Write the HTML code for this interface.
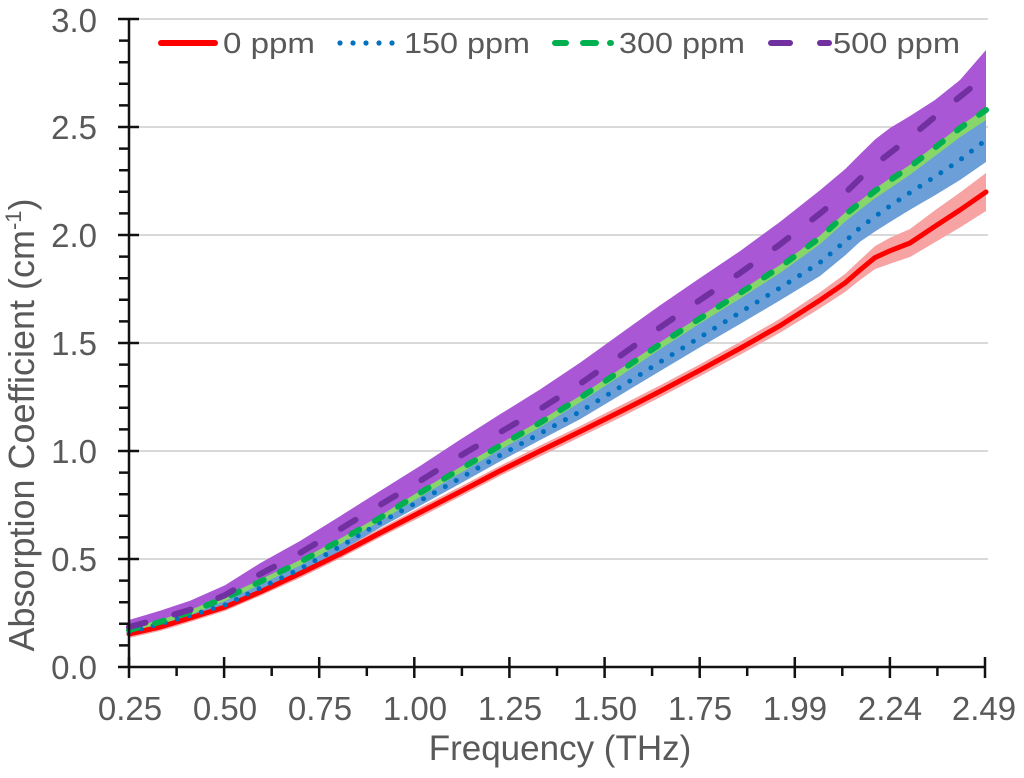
<!DOCTYPE html>
<html>
<head>
<meta charset="utf-8">
<style>
  html, body { margin: 0; padding: 0; background: #ffffff; }
  body { width: 1024px; height: 778px; overflow: hidden; }
  svg { display: block; }
  text { font-family: "Liberation Sans", Arial, sans-serif; fill: #595959; }
</style>
</head>
<body>
<svg width="1024" height="778" viewBox="0 0 1024 778" xmlns="http://www.w3.org/2000/svg">
  <rect x="0" y="0" width="1024" height="778" fill="#ffffff"/>

  <!-- gridlines -->
  <g stroke="#d9d9d9" stroke-width="2">
    <line x1="130" y1="19" x2="988" y2="19"/>
    <line x1="130" y1="127" x2="988" y2="127"/>
    <line x1="130" y1="235" x2="988" y2="235"/>
    <line x1="130" y1="343" x2="988" y2="343"/>
    <line x1="130" y1="451" x2="988" y2="451"/>
    <line x1="130" y1="559" x2="988" y2="559"/>
  </g>

  <!-- bands -->
  <polygon fill="#f7a3a3" points="129,630 160,623 190,614 225,603 260,588 300,569 340,549.5 380,528.5 420,507.4 460,486.8 500,465.9 540,445.5 580,426.1 620,405.8 660,385.4 700,364.2 740,341.9 780,318.7 820,292.2 845,274 860,260 875,246.1 890,237.8 910,229 935,210.3 960,192.5 986,173 986,211 960,227.5 935,242.3 910,257 890,263.8 875,269.1 860,280 845,292 820,308.2 780,332.7 740,354.9 700,376.2 660,397.4 620,417.8 580,437.1 540,456.5 500,475.9 460,496.8 420,517.4 380,537.5 340,558.5 300,578 260,596 225,611 190,622 160,631 129,638"/>
  <polygon fill="#6c9fd8" points="129,630 160,622 190,612 225,598 260,581.8 300,562 340,540.6 380,517.9 420,492.9 460,469.2 500,445.7 540,422.7 580,397.9 620,371.1 660,344.2 700,318.4 740,293.1 780,267 820,237.6 845,214.8 860,202.8 875,190.9 890,180.2 910,166.7 935,147.5 960,128.1 986,110 986,162 960,180 935,195.2 910,209.7 890,222 875,231.5 860,241.8 845,255.5 820,276 780,300.4 740,324 700,347.3 660,371.1 620,395.2 580,419.2 540,440.1 500,461.4 460,483.8 420,505.8 380,527.7 340,551.2 300,573 260,591.7 225,608.5 190,618.5 160,626.9 129,635"/>
  <polygon fill="#86d66a" points="129,626 160,618 190,608 225,594 260,577.8 300,558 340,536.6 380,513.9 420,488.9 460,465.2 500,441.7 540,418.7 580,393.9 620,367.1 660,340.2 700,314.4 740,289.1 780,263 820,233.6 845,210.8 860,198.8 875,186.9 890,176.2 910,162.7 935,143.5 960,124.1 986,106 986,120 960,137.1 935,156 910,174.7 890,188.2 875,198.4 860,209.8 845,221.8 820,244.1 780,273 740,298.6 700,323.4 660,349.2 620,376.1 580,402.4 540,427.2 500,449.7 460,473.2 420,496.9 380,521.4 340,544.1 300,565.5 260,584.8 225,601 190,615 160,625 129,633"/>
  <polygon fill="#a957d5" points="129,620 160,610.8 190,600.8 225,585.2 260,563.2 300,541 340,516.2 380,491 420,466 460,439.7 500,414.3 540,389.5 580,362.7 620,334 660,305.4 700,278 740,251.1 780,221.9 820,190.2 845,169.3 860,154.2 875,139.5 890,128 910,116 935,100 960,80 986,50 986,108 960,126.1 935,145.5 910,164.7 890,178.2 875,188.9 860,200.8 845,212.8 820,235.6 780,265 740,291.1 700,316.4 660,342.2 620,369.1 580,395.9 540,420.7 500,443.7 460,467.2 420,490.9 380,515.9 340,538.6 300,560 260,579.8 225,596 190,610 160,620 129,628"/>

  <!-- lines -->
  <polyline fill="none" stroke="#ff0000" stroke-width="5" stroke-linejoin="round" stroke-linecap="round" points="129,634 160,627 190,618 225,607 260,592 300,573.5 340,554 380,533 420,512.4 460,491.8 500,470.9 540,451 580,431.6 620,411.8 660,391.4 700,370.2 740,348.4 780,325.7 820,300.2 845,283 860,270 875,257.6 890,250.8 910,243 935,226.3 960,210 986,192"/>
  <polyline fill="none" stroke="#0070c0" stroke-width="5" stroke-linejoin="round" stroke-linecap="round" stroke-dasharray="0 12.5" points="129,632 160,623.9 190,615.5 225,605 260,588.2 300,569 340,546.7 380,522.7 420,500.8 460,478.3 500,455.4 540,433.6 580,411.7 620,387.2 660,362.1 700,337.3 740,312.5 780,287.9 820,262.5 845,241.5 860,227.8 875,216.5 890,206 910,192.7 935,176.7 960,160 986,140"/>
  <polyline fill="none" stroke="#00b050" stroke-width="6" stroke-linejoin="round" stroke-linecap="round" stroke-dasharray="9 18" points="129,630 160,622 190,612 225,598 260,581.8 300,562 340,540.6 380,517.9 420,492.9 460,469.2 500,445.7 540,422.7 580,397.9 620,371.1 660,344.2 700,318.4 740,293.1 780,267 820,237.6 845,214.8 860,202.8 875,190.9 890,180.2 910,166.7 935,147.5 960,128.1 986,110"/>
  <polyline fill="none" stroke="#7030a0" stroke-width="6" stroke-linejoin="round" stroke-linecap="round" stroke-dasharray="17 30" points="129,627 160,618.8 190,609.8 225,595.2 260,574.2 300,553 340,529.2 380,505 420,481 460,456 500,432.3 540,409.1 580,383.9 620,356 660,327.4 700,300 740,273.1 780,244.4 820,213.5 845,193.2 860,178.6 875,164.5 890,153 910,137.5 935,116.7 960,96.6 986,76"/>

  <!-- axes -->
  <g stroke="#111111" stroke-width="2.5" fill="none">
    <line x1="129" y1="18" x2="129" y2="668"/>
    <line x1="118" y1="667" x2="986" y2="667"/>
    <!-- y major ticks -->
    <path d="M118 19H139M118 127H139M118 235H139M118 343H139M118 451H139M118 559H139"/>
    <!-- y minor ticks -->
    <path d="M119 645.4H129M119 623.8H129M119 602.2H129M119 580.6H129M119 537.4H129M119 515.8H129M119 494.2H129M119 472.6H129M119 429.4H129M119 407.8H129M119 386.2H129M119 364.6H129M119 321.4H129M119 299.8H129M119 278.2H129M119 256.6H129M119 213.4H129M119 191.8H129M119 170.2H129M119 148.6H129M119 105.4H129M119 83.8H129M119 62.2H129M119 40.6H129"/>
    <!-- x major ticks -->
    <path d="M129 657V678M224.1 657V678M319.2 657V678M414.3 657V678M509.4 657V678M604.6 657V678M699.7 657V678M794.8 657V678M889.9 657V678M985 657V678"/>
    <!-- x minor ticks -->
    <path d="M176.6 667V676M271.7 667V676M366.8 667V676M461.9 667V676M557 667V676M652.1 667V676M747.2 667V676M842.3 667V676M937.4 667V676"/>
  </g>

  <!-- y tick labels -->
  <g font-size="33" text-anchor="end">
    <text x="97" y="32">3.0</text>
    <text x="97" y="139">2.5</text>
    <text x="97" y="247">2.0</text>
    <text x="97" y="355">1.5</text>
    <text x="97" y="463">1.0</text>
    <text x="97" y="571">0.5</text>
    <text x="97" y="679">0.0</text>
  </g>

  <!-- x tick labels -->
  <g font-size="33" text-anchor="middle">
    <text x="130" y="720">0.25</text>
    <text x="225" y="720">0.50</text>
    <text x="320" y="720">0.75</text>
    <text x="415" y="720">1.00</text>
    <text x="510" y="720">1.25</text>
    <text x="605" y="720">1.50</text>
    <text x="700" y="720">1.75</text>
    <text x="795" y="720">1.99</text>
    <text x="890" y="720">2.24</text>
    <text x="984" y="720">2.49</text>
  </g>

  <!-- axis titles -->
  <text x="560" y="760" font-size="35" text-anchor="middle">Frequency (THz)</text>
  <text transform="translate(34,425) rotate(-90)" font-size="36" text-anchor="middle">Absorption Coefficient (cm<tspan font-size="22" dy="-13">-1</tspan><tspan dy="13">)</tspan></text>

  <!-- legend -->
  <line x1="161" y1="43" x2="215" y2="43" stroke="#ff0000" stroke-width="6" stroke-linecap="round"/>
  <text x="223" y="53" font-size="29" textLength="92" lengthAdjust="spacingAndGlyphs">0 ppm</text>

  <g fill="#0070c0">
    <circle cx="340" cy="43" r="2.6"/>
    <circle cx="353" cy="43" r="2.6"/>
    <circle cx="366" cy="43" r="2.6"/>
    <circle cx="379" cy="43" r="2.6"/>
    <circle cx="392" cy="43" r="2.6"/>
  </g>
  <text x="404" y="53" font-size="29" textLength="126" lengthAdjust="spacingAndGlyphs">150 ppm</text>

  <g fill="#00b050">
    <rect x="552" y="40" width="17" height="6" rx="3"/>
    <rect x="580" y="40" width="19" height="6" rx="3"/>
    <rect x="607" y="40" width="7" height="6" rx="3"/>
  </g>
  <text x="619" y="53" font-size="29" textLength="126" lengthAdjust="spacingAndGlyphs">300 ppm</text>

  <g fill="#7030a0">
    <rect x="768" y="40" width="25" height="6" rx="3"/>
    <rect x="817" y="40" width="15" height="6" rx="3"/>
  </g>
  <text x="833" y="53" font-size="29" textLength="127" lengthAdjust="spacingAndGlyphs">500 ppm</text>
</svg>
</body>
</html>
